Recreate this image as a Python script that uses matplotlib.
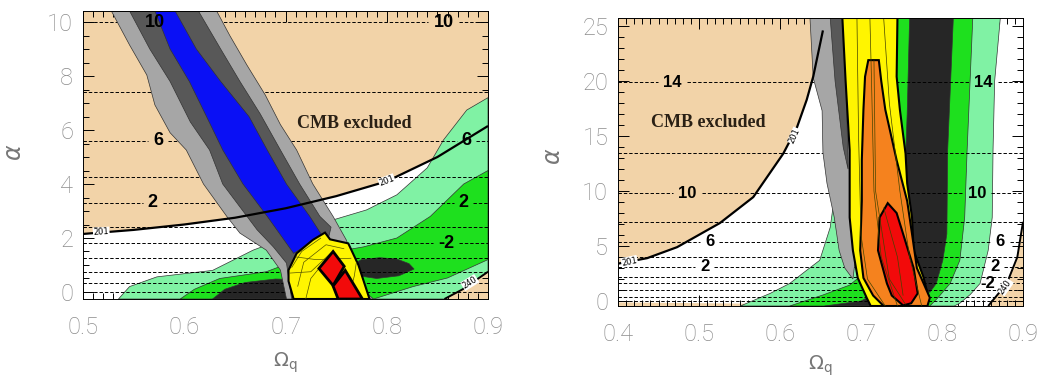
import numpy as np
import matplotlib.pyplot as plt
from matplotlib.ticker import MultipleLocator

plt.rcParams['lines.dashed_pattern'] = [3.5, 2.0]

TAN = '#F2D3A8'
LGRAY = '#A6A6A6'
DGRAY = '#585858'
BLUE = '#0A10F5'
LGREEN = '#80F2A4'
GREEN = '#1EE01E'
BLACK = '#262626'
YELLOW = '#FFF500'
ORANGE = '#F5821E'
RED = '#F20A0A'

# -----------------------------
# Left panel data (Omega_q, alpha)
# -----------------------------
L_xlim = (0.5, 0.9)
L_ylim = (-0.26, 10.41)
L_cmb = [(0.50, 2.15), (0.55, 2.3), (0.60, 2.5), (0.65, 2.75), (0.70, 3.1),
         (0.75, 3.55), (0.80, 4.1), (0.85, 5.0), (0.90, 6.15)]
L_240 = [(0.857, -0.26), (0.875, 0.1), (0.90, 0.75)]
L_lgreen = [(0.535, -0.26), (0.546, 0.2), (0.573, 0.56), (0.628, 0.8), (0.668, 1.55),
            (0.70, 2.0), (0.747, 2.67), (0.78, 3.04), (0.81, 3.6), (0.84, 4.6),
            (0.856, 5.63), (0.879, 6.74), (0.90, 7.2), (0.90, 0.75), (0.875, 0.1),
            (0.857, -0.26)]
L_green = [(0.596, -0.26), (0.61, 0.1), (0.635, 0.5), (0.681, 0.75), (0.72, 1.3),
           (0.777, 1.67), (0.81, 2.0), (0.843, 2.8), (0.876, 4.0), (0.90, 4.5),
           (0.90, 1.2), (0.86, 0.52), (0.826, 0.2), (0.787, -0.26)]
L_black1 = [(0.628, -0.26), (0.64, 0.1), (0.66, 0.35), (0.69, 0.48), (0.72, 0.45),
            (0.74, 0.2), (0.75, -0.26)]
L_black2 = [(0.765, 1.0), (0.775, 1.2), (0.793, 1.27), (0.81, 1.22), (0.822, 1.05),
            (0.827, 0.85), (0.812, 0.6), (0.79, 0.5), (0.772, 0.6), (0.765, 0.8)]
L_lgray = [(0.528, 10.41), (0.546, 9.15), (0.563, 8.04), (0.571, 6.93), (0.586, 5.9),
           (0.602, 5.26), (0.619, 4.0), (0.642, 2.8), (0.655, 2.18), (0.681, 1.55),
           (0.695, 0.81), (0.701, -0.26), (0.787, -0.26), (0.78, -0.04), (0.76, 1.93),
           (0.747, 2.8), (0.727, 4.0), (0.711, 5.26), (0.695, 6.2),
           (0.68, 7.3), (0.662, 8.4), (0.645, 9.5), (0.632, 10.41)]
L_dgray = [(0.546, 10.41), (0.566, 9.0), (0.586, 7.8), (0.606, 6.3), (0.625, 5.26),
           (0.638, 4.0), (0.662, 2.8), (0.672, 2.3), (0.688, 1.67), (0.701, 1.07),
           (0.706, -0.26), (0.72, -0.26), (0.742, 1.93), (0.745, 2.4), (0.734, 2.8),
           (0.714, 4.0), (0.695, 5.26), (0.675, 6.6), (0.655, 7.8), (0.636, 9.0),
           (0.614, 10.41)]
L_blue = [(0.571, 10.41), (0.586, 9.0), (0.605, 7.8), (0.622, 6.5), (0.638, 5.26),
          (0.658, 4.0), (0.682, 2.8), (0.701, 1.8), (0.708, 1.43), (0.736, 2.1),
          (0.724, 2.8), (0.701, 4.0), (0.682, 5.26), (0.664, 6.5), (0.636, 7.8),
          (0.612, 9.0), (0.591, 10.41)]
L_yellow = [(0.703, 0.81), (0.711, 1.43), (0.727, 1.93), (0.739, 2.2), (0.744, 1.95),
            (0.762, 1.8), (0.772, 1.0), (0.783, -0.26), (0.708, -0.26), (0.703, 0.4)]
L_red1 = [(0.733, 0.87), (0.747, 1.5), (0.758, 0.95), (0.747, 0.24)]
L_red2 = [(0.747, 0.22), (0.759, 0.8), (0.776, -0.26), (0.752, -0.26)]
L_mesh = [
    [(0.706, 0.9), (0.716, 1.5), (0.735, 2.0)],
    [(0.712, 0.2), (0.718, 1.1), (0.74, 1.75), (0.758, 1.6)],
    [(0.704, 0.7), (0.725, 0.75), (0.745, 1.45)],
    [(0.71, 1.3), (0.73, 1.2), (0.765, 1.25)],
    [(0.72, -0.26), (0.725, 0.5), (0.733, 0.87)],
    [(0.762, -0.26), (0.768, 0.6), (0.77, 1.1)],
]
L_levels = [0.0, 0.33, 0.75, 1.25, 1.8, 2.4, 3.3, 4.27, 5.6, 7.4, 10.0]
L_labels = {1.8: '-2', 3.3: '2', 5.6: '6', 10.0: '10'}
L_label_pos = [(0.571, 10.0), (0.856, 10.0), (0.574, 5.6), (0.879, 5.6),
               (0.569, 3.3), (0.876, 3.3), (0.859, 1.8)]

# -----------------------------
# Right panel data
# -----------------------------
R_xlim = (0.4, 0.9)
R_ylim = (-0.45, 25.73)
R_cmb = [(0.40, 3.4), (0.436, 3.9), (0.473, 4.9), (0.526, 7.1), (0.567, 9.45),
         (0.604, 13.4), (0.621, 15.8), (0.633, 18.3), (0.641, 20.4), (0.653, 24.6)]
R_240 = [(0.857, -0.45), (0.88, 1.6), (0.893, 4.0), (0.90, 7.2)]
R_lgreen = [(0.551, -0.45), (0.588, 0.7), (0.612, 1.6), (0.633, 2.8), (0.649, 3.7),
            (0.662, 6.7), (0.665, 8.3), (0.69, 10.0), (0.72, 25.73), (0.872, 25.73),
            (0.865, 20.0), (0.863, 13.7), (0.862, 7.6), (0.857, 4.6), (0.847, 1.6),
            (0.835, 0.6), (0.822, -0.2), (0.815, -0.45)]
R_green = [(0.612, -0.45), (0.653, 0.55), (0.686, 1.45), (0.70, 2.3), (0.712, 5.0),
           (0.725, 15.0), (0.736, 25.73), (0.838, 25.73), (0.831, 13.7), (0.828, 7.6),
           (0.822, 3.7), (0.81, 1.6), (0.795, 0.3), (0.785, -0.45)]
R_black = [(0.760, 25.73), (0.814, 25.73), (0.807, 13.7), (0.806, 6.1), (0.801, 3.7),
           (0.793, 1.6), (0.785, 0.8), (0.776, 0.9), (0.768, 3.0), (0.758, 8.0),
           (0.755, 13.0), (0.757, 17.0)]
R_black2 = [(0.655, -0.45), (0.70, 0.0), (0.715, 0.6), (0.725, -0.45)]
R_lgray = [(0.637, 25.73), (0.641, 20.3), (0.652, 17.3), (0.653, 13.5), (0.658, 10.7),
           (0.667, 7.6), (0.673, 4.6), (0.68, 3.0), (0.69, 2.0), (0.695, 5.0),
           (0.69, 15.0), (0.684, 25.73)]
R_dgray = [(0.662, 25.73), (0.68, 25.73), (0.684, 12.0), (0.678, 14.0), (0.668, 20.0)]
R_yellow = [(0.677, 25.73), (0.745, 25.73), (0.744, 20.4), (0.748, 17.4), (0.755, 13.4),
            (0.757, 10.7), (0.763, 7.6), (0.765, 4.6), (0.777, 2.2), (0.783, 0.4),
            (0.78, -0.45), (0.712, -0.45), (0.707, 0.3), (0.696, 2.1), (0.690, 4.6),
            (0.686, 7.6), (0.686, 13.7), (0.681, 20.0)]
R_orange = [(0.709, 21.9), (0.722, 21.9), (0.725, 20.0), (0.73, 17.4), (0.744, 12.8),
            (0.757, 9.1), (0.763, 6.1), (0.769, 3.0), (0.785, 0.3), (0.782, -0.45),
            (0.728, -0.45), (0.715, 0.5), (0.703, 2.1), (0.699, 4.6), (0.701, 9.1),
            (0.701, 12.8), (0.703, 17.4), (0.705, 20.4)]
R_red = [(0.733, 8.9), (0.744, 8.0), (0.752, 6.1), (0.765, 3.0), (0.77, 0.7),
         (0.762, -0.2), (0.752, -0.4), (0.738, 0.5), (0.732, 1.6), (0.721, 4.6),
         (0.723, 7.6)]
R_mesh = [
    [(0.695, 25.73), (0.697, 15.0), (0.700, 6.0), (0.708, 2.0), (0.73, -0.45)],
    [(0.711, 25.73), (0.713, 20.0), (0.716, 10.0), (0.725, 4.0), (0.745, -0.45)],
    [(0.728, 25.73), (0.735, 18.0), (0.748, 10.0), (0.76, 4.0), (0.775, -0.45)],
    [(0.716, 21.9), (0.718, 10.0), (0.735, 2.0), (0.755, -0.3)],
    [(0.728, 8.5), (0.745, 4.0), (0.752, 0.5)],
]
R_levels = [0.0, 0.4, 1.0, 1.6, 2.2, 3.1, 4.0, 5.4, 7.2, 9.8, 13.5, 19.9]
R_labels = {1.6: '-2', 3.1: '2', 5.4: '6', 9.8: '10', 19.9: '14'}
R_label_pos = [(0.467, 19.9), (0.851, 19.9), (0.486, 9.8), (0.843, 9.8),
               (0.513, 5.4), (0.872, 5.4), (0.507, 3.1), (0.865, 3.1), (0.857, 1.6)]


def poly(ax, pts, color, z, ec='#333333', lw=0.5):
    xs, ys = zip(*pts)
    ax.fill(xs, ys, facecolor=color, edgecolor=ec, linewidth=lw, zorder=z)


def line(ax, pts, z, lw=0.5, color='k'):
    xs, ys = zip(*pts)
    ax.plot(xs, ys, color=color, lw=lw, zorder=z, solid_capstyle='butt')


def dotted(ax, xlim, levels, labels, spots, size=13):
    gx = np.linspace(xlim[0], xlim[1], 60)
    gy = np.linspace(min(levels) - 1, max(levels) + 1, 600)
    X, Y = np.meshgrid(gx, gy)
    plain = [v for v in levels if v not in labels]
    ax.contour(X, Y, Y, levels=plain, colors='k', linewidths=0.7,
               linestyles='dashed', zorder=3.5)
    cs = ax.contour(X, Y, Y, levels=sorted(labels), colors='k', linewidths=0.7,
                    linestyles='dashed', zorder=3.5)
    txt = ax.clabel(cs, fmt=labels, manual=spots,
                    inline=True, inline_spacing=4, fontsize=size)
    for t in txt:
        t.set_fontweight('bold')
        t.set_family('Liberation Sans')
        t.set_zorder(12)


def style(ax, xlim, ylim, ymaj, ymin):
    ax.set_xlim(*xlim)
    ax.set_ylim(*ylim)
    ax.set_facecolor(TAN)
    ax.xaxis.set_major_locator(MultipleLocator(0.1))
    ax.xaxis.set_minor_locator(MultipleLocator(0.01))
    ax.yaxis.set_major_locator(MultipleLocator(ymaj))
    ax.yaxis.set_minor_locator(MultipleLocator(ymin))
    ax.tick_params(which='both', direction='in', top=True, right=True, width=0.7)
    ax.tick_params(which='major', length=8)
    ax.tick_params(which='minor', length=4)
    ax.tick_params(axis='x', which='major', pad=12)
    ax.tick_params(axis='y', which='major', pad=7)
    for lab in ax.get_xticklabels() + ax.get_yticklabels():
        lab.set_fontsize(17)
        lab.set_color('#8c8c8c')
        lab.set_family(['Roboto', 'DejaVu Sans'])
        lab.set_fontweight('light')
    for sp in ax.spines.values():
        sp.set_linewidth(0.7)
        sp.set_zorder(20)
    ax.set_xlabel(r'$\Omega_{\rm q}$', fontsize=14, color='#777777')
    ax.set_ylabel(r'$\alpha$', fontsize=17, color='#777777')


fig = plt.figure(figsize=(10.42, 3.78), dpi=100)
axL = fig.add_axes([83 / 1042, 1 - 299 / 378, 405 / 1042, 288 / 378])
axR = fig.add_axes([618 / 1042, 1 - 306 / 378, 405 / 1042, 288 / 378])

# ---- left ----
style(axL, L_xlim, L_ylim, 2, 0.5)
white_L = L_cmb + [(0.9, 0.75)] + L_240[::-1] + [(0.5, -0.26)]
poly(axL, white_L, 'white', 1, ec='none', lw=0)
poly(axL, L_lgreen, LGREEN, 2)
poly(axL, L_green, GREEN, 2.1)
poly(axL, L_black1, BLACK, 2.2)
poly(axL, L_black2, BLACK, 2.2)
dotted(axL, L_xlim, L_levels, L_labels, L_label_pos)
poly(axL, L_lgray, LGRAY, 4)
poly(axL, L_dgray, DGRAY, 4.1)
poly(axL, L_blue, BLUE, 4.2)
poly(axL, L_yellow, YELLOW, 5, ec='k', lw=1.5)
poly(axL, L_red1, RED, 5.2, ec='k', lw=2)
poly(axL, L_red2, RED, 5.2, ec='k', lw=2)
for m in L_mesh:
    line(axL, m, 5.1, lw=0.5, color='#555500')
line(axL, L_cmb, 6, lw=1.6)
line(axL, L_240, 6, lw=1.4)
axL.text(0.518, 2.22, '201', fontsize=6, rotation=4, ha='center', va='center', zorder=7,
         bbox=dict(facecolor='white', edgecolor='none', pad=0.3))
axL.text(0.80, 4.12, '201', fontsize=6, rotation=21, ha='center', va='center', zorder=7,
         bbox=dict(facecolor='white', edgecolor='none', pad=0.3))
axL.text(0.882, 0.35, '240', fontsize=6, rotation=32, ha='center', va='center', zorder=7,
         bbox=dict(facecolor='white', edgecolor='none', pad=0.3))
axL.text(0.768, 6.26, 'CMB excluded', fontsize=13, fontweight='bold',
         family='Liberation Serif', color='#2a2015', ha='center', va='center', zorder=8)
axL.xaxis.set_label_coords(0.5, -0.18)
axL.yaxis.set_label_coords(-0.14, 0.51)

# ---- right ----
style(axR, R_xlim, R_ylim, 5, 1)
white_R = R_cmb + [(0.66, 25.73), (0.9, 25.73), (0.9, 7.2)] + R_240[::-1] + [(0.4, -0.12)]
poly(axR, white_R, 'white', 1, ec='none', lw=0)
poly(axR, R_lgreen, LGREEN, 2)
poly(axR, R_green, GREEN, 2.1)
poly(axR, R_black, BLACK, 2.2)
poly(axR, R_black2, BLACK, 2.2)
dotted(axR, R_xlim, R_levels, R_labels, R_label_pos, size=12)
poly(axR, R_lgray, LGRAY, 4)
poly(axR, R_dgray, DGRAY, 4.1)
poly(axR, R_yellow, YELLOW, 5, ec='k', lw=1.5)
poly(axR, R_orange, ORANGE, 5.2, ec='k', lw=1.5)
poly(axR, R_red, RED, 5.4, ec='k', lw=1.5)
for m in R_mesh:
    line(axR, m, 5.6, lw=0.5, color='#444400')
line(axR, R_cmb, 6, lw=1.6)
line(axR, R_240, 6, lw=1.4)
axR.text(0.414, 3.6, '201', fontsize=6, rotation=12, ha='center', va='center', zorder=7,
         bbox=dict(facecolor='white', edgecolor='none', pad=0.3))
axR.text(0.618, 15.0, '201', fontsize=6, rotation=66, ha='center', va='center', zorder=7,
         bbox=dict(facecolor='white', edgecolor='none', pad=0.3))
axR.text(0.878, 1.3, '240', fontsize=6, rotation=55, ha='center', va='center', zorder=7,
         bbox=dict(facecolor='white', edgecolor='none', pad=0.3))
axR.text(0.512, 16.2, 'CMB excluded', fontsize=13, fontweight='bold',
         family='Liberation Serif', color='#2a2015', ha='center', va='center', zorder=8)
axR.xaxis.set_label_coords(0.5, -0.165)
axR.yaxis.set_label_coords(-0.13, 0.52)

fig.savefig('out.png', dpi=100)
